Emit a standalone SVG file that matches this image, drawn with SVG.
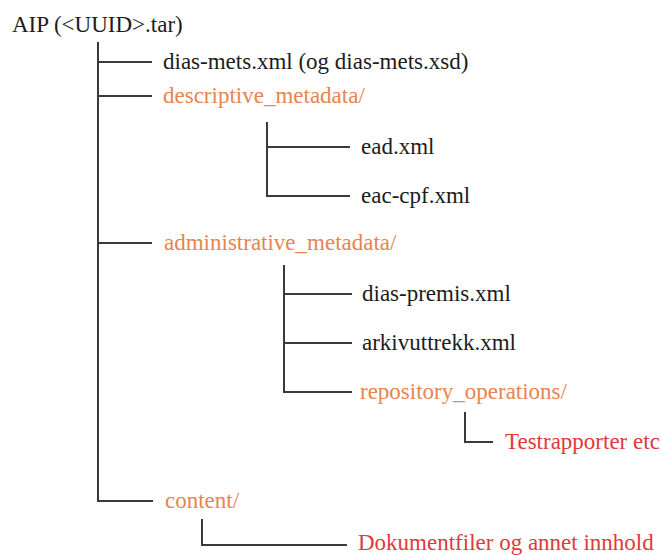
<svg xmlns="http://www.w3.org/2000/svg" width="662" height="556" viewBox="0 0 662 556">
<style>
.t{font-family:"Liberation Serif","DejaVu Serif","Times New Roman",Times,serif;font-size:23px}
.k{fill:#1c1c1c}
.o{fill:#e8844f}
.r{fill:#e0393b}
.c line{stroke:#3a3a3a;stroke-width:2;fill:none}
</style>
<rect width="662" height="556" fill="#ffffff"/>
<g class="c" id="connectors">
<line x1="98" y1="42" x2="98" y2="502"/>
<line x1="97" y1="62" x2="152" y2="62"/>
<line x1="97" y1="96" x2="152" y2="96"/>
<line x1="97" y1="243" x2="152" y2="243"/>
<line x1="97" y1="501" x2="153" y2="501"/>
<line x1="267" y1="122" x2="267" y2="197"/>
<line x1="266" y1="147" x2="350" y2="147"/>
<line x1="266" y1="196" x2="350" y2="196"/>
<line x1="284" y1="265" x2="284" y2="393"/>
<line x1="283" y1="294" x2="352" y2="294"/>
<line x1="283" y1="343" x2="352" y2="343"/>
<line x1="283" y1="392" x2="352" y2="392"/>
<line x1="465" y1="412" x2="465" y2="443"/>
<line x1="464" y1="442" x2="493" y2="442"/>
<line x1="202" y1="519" x2="202" y2="546"/>
<line x1="201" y1="545" x2="347" y2="545"/>
</g>
<g id="aip"><text class="t k" font-family="Liberation Serif, serif" x="12" y="32">AIP (&lt;UUID&gt;.tar)</text></g>
<g id="dias-mets"><text class="t k" font-family="Liberation Serif, serif" x="163" y="69">dias-mets.xml (og dias-mets.xsd)</text></g>
<g id="descriptive"><text class="t o" font-family="Liberation Serif, serif" x="163" y="103">descriptive_metadata/</text></g>
<g id="ead"><text class="t k" font-family="Liberation Serif, serif" x="361" y="154">ead.xml</text></g>
<g id="eac"><text class="t k" font-family="Liberation Serif, serif" x="361" y="203">eac-cpf.xml</text></g>
<g id="administrative"><text class="t o" font-family="Liberation Serif, serif" x="164" y="250">administrative_metadata/</text></g>
<g id="premis"><text class="t k" font-family="Liberation Serif, serif" x="362" y="301">dias-premis.xml</text></g>
<g id="arkivuttrekk"><text class="t k" font-family="Liberation Serif, serif" x="362" y="350">arkivuttrekk.xml</text></g>
<g id="repository"><text class="t o" font-family="Liberation Serif, serif" x="360" y="399">repository_operations/</text></g>
<g id="testrapporter"><text class="t r" font-family="Liberation Serif, serif" x="505" y="449">Testrapporter etc</text></g>
<g id="content"><text class="t o" font-family="Liberation Serif, serif" x="165" y="508">content/</text></g>
<g id="dokumentfiler"><text class="t r" font-family="Liberation Serif, serif" x="358" y="550">Dokumentfiler og annet innhold</text></g>
</svg>
